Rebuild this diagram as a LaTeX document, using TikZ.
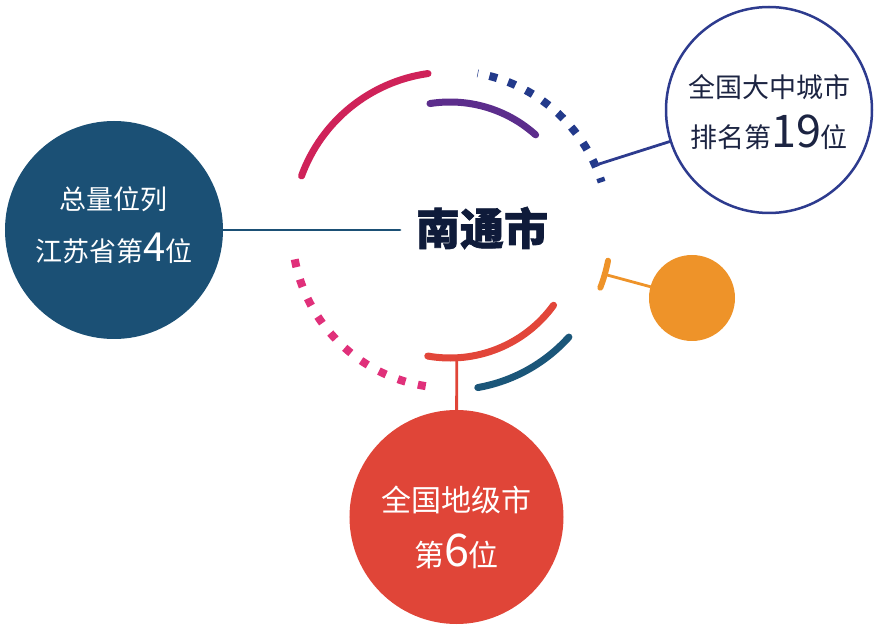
\documentclass[tikz,border=0pt]{standalone}
\usepackage{fontspec}
\newfontfamily\cjk{Noto Sans CJK SC}
\newfontfamily\cjkheavy[BoldFeatures={FakeBold=1.6}]{Noto Sans CJK SC}
\definecolor{crimsonarc}{HTML}{CF2259}
\definecolor{purplearc}{HTML}{5C2D8C}
\definecolor{navydot}{HTML}{233A8B}
\definecolor{pinkdot}{HTML}{E0307A}
\definecolor{redarc}{HTML}{E2463A}
\definecolor{tealarc}{HTML}{1B5679}
\definecolor{orangedot}{HTML}{EE9329}
\definecolor{tealbub}{HTML}{1B5075}
\definecolor{redbub}{HTML}{E04538}
\definecolor{navyring}{HTML}{2D3B8E}
\definecolor{inktext}{HTML}{1C2442}
\definecolor{cityink}{HTML}{0F1B3A}

\begin{document}
\begin{tikzpicture}[x=1pt, y=1pt, line cap=round, font=\cjk,
    bubble/.style={circle, inner sep=0pt},
    bubtext/.style={align=center, inner sep=0pt}]
      \useasboundingbox (-450,-401) rectangle (431,230);

      \node[text=cityink, font=\cjkheavy\bfseries\fontsize{44}{44}\selectfont] (city) at (32,2) {南通市};

      % ring of arcs
      \draw[crimsonarc, line width=7] (98:158) arc[start angle=98, end angle=160, radius=158];
      \draw[purplearc, line width=7] (99:128) arc[start angle=99, end angle=48, radius=128];
      \draw[navydot, line width=8, line cap=butt, dash pattern=on 8pt off 11.6pt, dash phase=7.5pt]
        (80:159) arc[start angle=80, end angle=17.5, radius=159];
      \draw[pinkdot, line width=8, line cap=butt, dash pattern=on 8pt off 12.7pt]
        (190.7:158) arc[start angle=190.7, end angle=261.2, radius=158];
      \draw[redarc, line width=7] (260:128) arc[start angle=260, end angle=324, radius=128];
      \draw[tealarc, line width=7] (280:160) arc[start angle=280, end angle=318, radius=160];
      \draw[orangedot, line width=6] (-21:161) arc[start angle=-21, end angle=-11, radius=161];

      % bubbles
      \node[bubble, fill=tealbub, minimum size=218] (prov) at (-336,0) {};
      \node[bubble, draw=navyring, line width=2.5, fill=white, minimum size=206] (rank19) at (319,120) {};
      \node[bubble, fill=redbub, minimum size=214] (pref) at (6.5,-287) {};
      \node[bubble, fill=orangedot, minimum size=86] (dot) at (242,-68) {};

      \node[bubtext, text=white, font=\cjk\fontsize{27}{52}\selectfont] (provtxt) at ([yshift=5]prov)
        {总量位列\\江苏省第{\fontsize{40}{40}\selectfont 4}位};
      \node[bubtext, text=inktext, font=\cjk\fontsize{27}{50}\selectfont] (rank19txt) at ([yshift=-2]rank19)
        {全国大中城市\\排名第{\fontsize{45}{45}\selectfont 19}位};
      \node[bubtext, text=white, font=\cjk\fontsize{30}{55}\selectfont] (preftxt) at ([yshift=-10]pref)
        {全国地级市\\第{\fontsize{45}{45}\selectfont 6}位};

      % connectors
      \coordinate (leftend) at (-50,0);
      \coordinate (navyend) at (24:160);
      \coordinate (orangeend) at (-16:161);
      \coordinate (redend) at (273:128);
      \draw[tealbub, line width=2.8] (prov) -- (leftend);
      \draw[navyring, line width=2.8] (navyend) -- (rank19);
      \draw[orangedot, line width=2.8] (orangeend) -- (dot);
      \draw[redbub, line width=2.8] (redend) -- (pref);
    \end{tikzpicture}
\end{document}
